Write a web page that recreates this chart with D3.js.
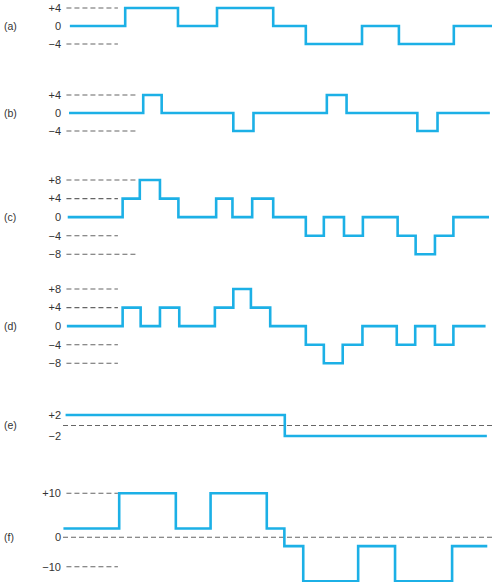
<!DOCTYPE html>
<html><head><meta charset="utf-8">
<script src="https://cdn.jsdelivr.net/npm/d3@7"></script>
<style>body{margin:0;background:#fff}svg{font-family:"Liberation Sans",Arial,sans-serif}</style>
</head><body><svg id="c" width="496" height="582"></svg>
<script>
// time breakpoints (0..100 units) and step levels for each trace
const panelNames = ["(a)","(b)","(c)","(d)","(e)","(f)"];
const breaksA = [1.6,14.5,26.8,35.9,49,56.6,69.7,78.3,91.1,100];
const levelsA = [0,4,0,4,0,-4,0,-4,0];
const breaksB = [1.4,18.7,23,39.7,44.4,61.5,66.1,82.6,87.3,99.5];
const levelsB = [0,4,0,-4,0,4,0,-4,0];
const breaksC = [1.1,13.9,17.9,22.6,26.9,35.7,39.5,44.1,49,56.6,60.8,65.5,69.9,78,82.2,86.7,91,99.3];
const levelsC = [0,4,8,4,0,4,0,4,0,-4,0,-4,0,-4,-8,-4,0];
const breaksD = [0.9,13.9,18.1,22.6,27.1,35.4,39.7,43.8,48.3,56.6,60.8,65.2,69.8,77.8,82.1,86.7,91,98.5];
const levelsD = [0,4,0,4,0,4,8,4,0,-4,-8,-4,0,-4,0,-4,0];
const breaksE = [0.6,51.7,98.8];
const levelsE = [2,-2];
const breaksF = [0.1,13.1,26.3,34.4,47.5,51.6,56,68.8,77.4,90.7,98.9];
const levelsF = [2,10,2,10,2,-2,-10,-2,-10,-2];
// tick labels: value, label, dash end (time units; null = none, 100 = full)
const ticksA = [[4,"+4",12.8],[0,"0",null],[-4,"\u22124",12.8]];
const ticksB = [[4,"+4",17.2],[0,"0",null],[-4,"\u22124",17.2]];
const ticksC = [[8,"+8",17],[4,"+4",12.8],[0,"0",null],[-4,"\u22124",12.8],[-8,"\u22128",17]];
const ticksD = [[8,"+8",12.8],[4,"+4",12.8],[0,"0",null],[-4,"\u22124",12.8],[-8,"\u22128",12.8]];
const ticksE = [[2,"+2",null],[0,"",100],[-2,"\u22122",null]];
const ticksF = [[10,"+10",12.8],[0,"0",100],[-6.7,"\u221210",12.8]];

const panels = [
 {breaks:breaksA,levels:levelsA,ticks:ticksA,dom:[4,-4],rng:[8,44],lab:0},
 {breaks:breaksB,levels:levelsB,ticks:ticksB,dom:[4,-4],rng:[95,131],lab:0},
 {breaks:breaksC,levels:levelsC,ticks:ticksC,dom:[8,-8],rng:[180,254.3],lab:0},
 {breaks:breaksD,levels:levelsD,ticks:ticksD,dom:[8,-8],rng:[289,363.3],lab:0},
 {breaks:breaksE,levels:levelsE,ticks:ticksE,dom:[2,-2],rng:[415,436],lab:0},
 {breaks:breaksF,levels:levelsF,ticks:ticksF,dom:[10,-10],rng:[493.3,581.3],lab:0}
];
const svg = d3.select("#c");
const x = d3.scaleLinear().domain([0,100]).range([63,492]);
panels.forEach((p,i)=>{
  const y = d3.scaleLinear().domain(p.dom).range(p.rng);
  const g = svg.append("g");
  g.append("text").attr("x",4).attr("y",y(p.lab)).attr("dy","0.35em")
    .attr("font-size",10.5).attr("fill","#333").text(panelNames[i]);
  p.ticks.forEach(([v,l,e])=>{
    if(l) g.append("text").attr("x",61).attr("y",y(v)).attr("dy","0.35em")
      .attr("text-anchor","end").attr("font-size",11).attr("fill","#333").text(l);
    if(e!==null) g.append("line").attr("x1",e===100?x(0):x(0.8)).attr("x2",x(e))
      .attr("y1",y(v)).attr("y2",y(v)).attr("stroke","#666").attr("stroke-width",1.1)
      .attr("stroke-dasharray","5,3");
  });
  const pts = p.levels.map((lv,j)=>[p.breaks[j],lv]);
  pts.push([p.breaks[p.breaks.length-1],p.levels[p.levels.length-1]]);
  g.append("path").datum(pts)
    .attr("d",d3.line().x(d=>x(d[0])).y(d=>y(d[1])).curve(d3.curveStepAfter))
    .attr("fill","none").attr("stroke","#1cb0e6").attr("stroke-width",2.6);
});
</script></body></html>
